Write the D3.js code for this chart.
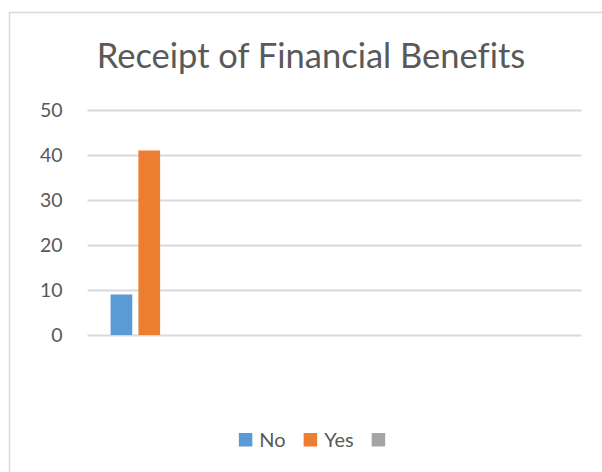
<!DOCTYPE html>
<html>
<head>
<meta charset="utf-8">
<script src="https://cdn.jsdelivr.net/npm/d3@7"></script>
<style>
  html, body { margin: 0; padding: 0; background: #ffffff; }
  svg { display: block; }
  text { font-family: Lato, "Open Sans", sans-serif; fill: #595959; font-variant-ligatures: none; }
</style>
</head>
<body>
<svg id="chart" width="602" height="472"></svg>
<script>
// Chart data
const title = "Receipt of Financial Benefits";
const categories = ["", "", "", ""];          // four category slots, unlabeled
const seriesNames = ["No", "Yes", ""];        // third series has no name
const seriesNo  = [9, null, null, null];
const seriesYes = [41, null, null, null];
const seriesBlank = [null, null, null, null];
const yTicks = [0, 10, 20, 30, 40, 50];
const colors = ["#5B9BD5", "#ED7D31", "#A5A5A5"];

const seriesValues = [seriesNo, seriesYes, seriesBlank];

const svg = d3.select("#chart");

// Chart area frame (extends past the right and bottom edges)
svg.append("rect")
  .attr("x", 9.5).attr("y", 12.5)
  .attr("width", 620).attr("height", 500)
  .attr("fill", "#ffffff")
  .attr("stroke", "#d9d9d9")
  .attr("stroke-width", 1.5);

const centerX = 311;

// Title
svg.append("text")
  .attr("x", centerX).attr("y", 68)
  .attr("text-anchor", "middle")
  .style("font-size", "34.5px")
  .text(title);

// Plot area
const plot = { left: 87.5, right: 581.5, top: 110, bottom: 335 };

const y = d3.scaleLinear()
  .domain([0, 50])
  .range([plot.bottom, plot.top]);

const x0 = d3.scaleBand()
  .domain(d3.range(categories.length))
  .range([plot.left, plot.right])
  .paddingInner(0).paddingOuter(0);

const x1 = d3.scaleBand()
  .domain(d3.range(seriesNames.length))
  .range([0, x0.bandwidth()])
  .paddingInner(0.22)
  .paddingOuter(0.83);

// Gridlines and y labels via a left axis
const yAxis = d3.axisLeft(y)
  .tickValues(yTicks)
  .tickSize(-(plot.right - plot.left))
  .tickPadding(25)
  .tickFormat(d3.format("d"));

const gy = svg.append("g")
  .attr("transform", `translate(${plot.left},0)`)
  .call(yAxis);
gy.select(".domain").remove();
gy.selectAll(".tick line")
  .attr("stroke", "#d9d9d9")
  .attr("stroke-width", 1.8);
gy.selectAll(".tick text")
  .attr("fill", "#595959")
  .style("font-family", "Lato, 'Open Sans', sans-serif")
  .style("font-size", "19.5px");

// Bars
const barData = [];
seriesValues.forEach((vals, s) => {
  vals.forEach((v, c) => {
    if (v != null) barData.push({ s, c, v });
  });
});

svg.append("g")
  .selectAll("rect")
  .data(barData)
  .join("rect")
  .attr("x", d => x0(d.c) + x1(d.s))
  .attr("y", d => y(d.v))
  .attr("width", x1.bandwidth())
  .attr("height", d => y(0) - y(d.v))
  .attr("fill", d => colors[d.s]);

// Legend
const legend = svg.append("g");
const sw = 13.5, textGap = 7, itemGap = 18, legendY = 433;
let cursor = 0;
seriesNames.forEach((name, i) => {
  const g = legend.append("g");
  g.append("rect")
    .attr("x", cursor).attr("y", legendY)
    .attr("width", sw).attr("height", sw)
    .attr("fill", colors[i]);
  const t = g.append("text")
    .attr("x", cursor + sw + textGap)
    .attr("y", legendY + sw)
    .style("font-size", "20px")
    .text(name);
  const tw = name ? t.node().getComputedTextLength() : 0;
  cursor += sw + (name ? textGap + tw : 0) + itemGap;
});
const legendWidth = cursor - itemGap;
legend.attr("transform", `translate(${centerX - legendWidth / 2 + 1},0)`);
</script>
</body>
</html>
